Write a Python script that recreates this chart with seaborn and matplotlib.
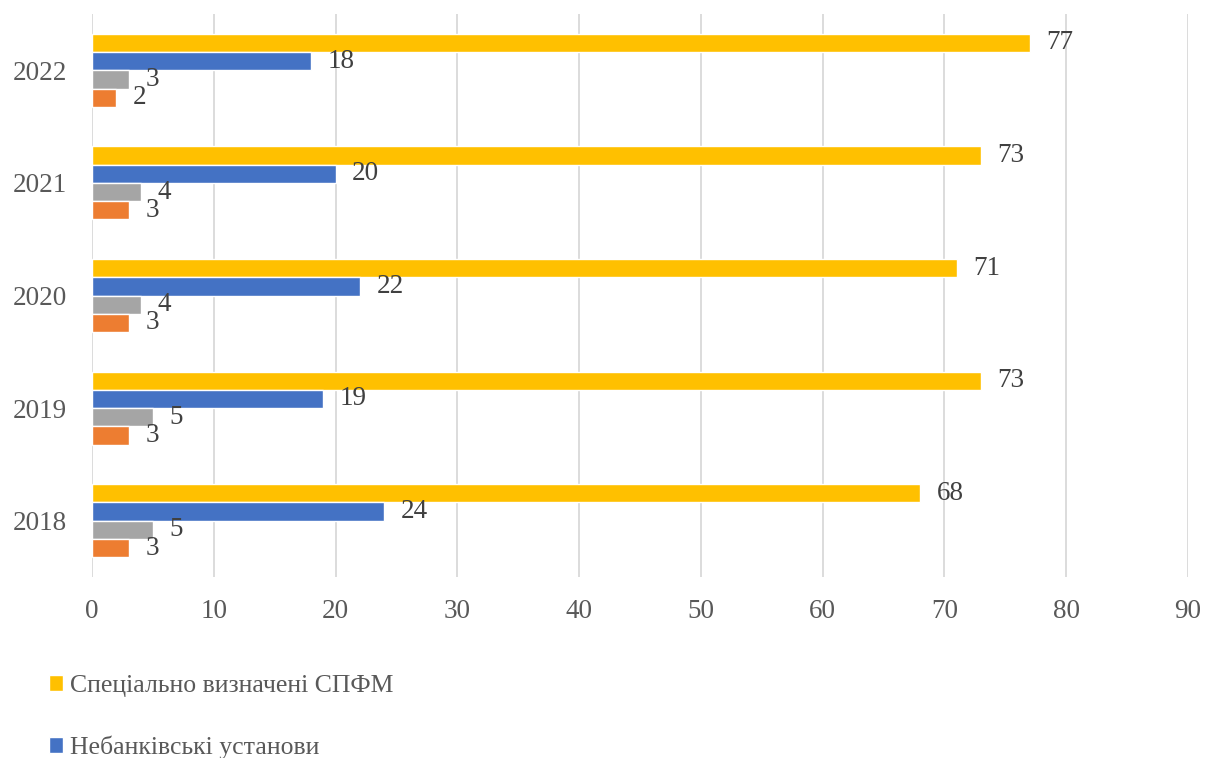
import matplotlib
matplotlib.use("Agg")
import matplotlib.pyplot as plt
import seaborn as sns
import pandas as pd
from matplotlib.patches import Patch

years = ["2022", "2021", "2020", "2019", "2018"]
series = ["Спеціально визначені СПФМ", "Небанківські установи", "Серія 3", "Серія 4"]
spfm = [77, 73, 71, 73, 68]
nonbank = [18, 20, 22, 19, 24]
gray_vals = [3, 4, 4, 5, 5]
orange_vals = [2, 3, 3, 3, 3]
xticks = [0, 10, 20, 30, 40, 50, 60, 70, 80, 90]
colors = ["#FFC000", "#4472C4", "#A5A5A5", "#ED7D31"]

rows = []
for name, vals in zip(series, [spfm, nonbank, gray_vals, orange_vals]):
    for y, v in zip(years, vals):
        rows.append({"year": y, "series": name, "value": v})
df = pd.DataFrame(rows)

sns.set_theme(style="white")
plt.rcParams["font.family"] = ["Liberation Serif", "DejaVu Serif"]

fig = plt.figure(figsize=(12.19, 7.58), dpi=100)
ax = fig.add_axes([92 / 1219, 1 - 577 / 758, (1188 - 92) / 1219, (577 - 14) / 758])

sns.barplot(data=df, y="year", x="value", hue="series", order=years,
            hue_order=series, palette=colors, orient="h", width=0.65,
            saturation=1, ax=ax, legend=False, errorbar=None)

for c in ax.containers:
    ax.bar_label(c, padding=12, fontsize=19.5, color="#404040")

ax.set_xlim(0, 90)
ax.set_xticks(xticks)
ax.set_xticklabels([str(t) for t in xticks])
ax.set_xlabel("")
ax.set_ylabel("")
ax.xaxis.grid(True, color="#D9D9D9", linewidth=1.3)
ax.set_axisbelow(True)
for s in ax.spines.values():
    s.set_visible(False)
ax.tick_params(axis="both", length=0, labelsize=19.5, labelcolor="#595959")
ax.tick_params(axis="y", pad=18)
ax.tick_params(axis="x", pad=16)

handles = [Patch(facecolor=colors[0]), Patch(facecolor=colors[1])]
fig.legend(handles, series[:2], loc="upper left", bbox_to_anchor=(26 / 1219, 1 - 652 / 758),
           frameon=False, fontsize=18.5, labelcolor="#595959", handlelength=0.55,
           handleheight=0.6, handletextpad=0.25, labelspacing=1.5)

fig.savefig("out.png", dpi=100)
